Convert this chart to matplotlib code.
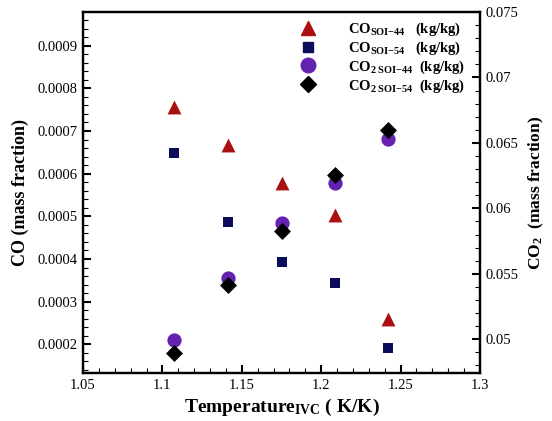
import matplotlib
matplotlib.use("Agg")
import matplotlib.pyplot as plt
from matplotlib.lines import Line2D
from matplotlib.ticker import MultipleLocator

plt.rcParams["font.family"] = ["Liberation Serif", "DejaVu Serif"]
plt.rcParams["mathtext.fontset"] = "custom"
plt.rcParams["mathtext.rm"] = "Liberation Serif"
plt.rcParams["mathtext.bf"] = "Liberation Serif:bold"
plt.rcParams["mathtext.it"] = "Liberation Serif:italic"

# data
temp_ivc = [1.1075, 1.1413, 1.175, 1.2085, 1.242]
co_soi44 = [0.000756, 0.000667, 0.000579, 0.000502, 0.000259]
co_soi54 = [0.000648, 0.000487, 0.000392, 0.000344, 0.000191]
co2_soi44 = [0.04995, 0.05469, 0.05888, 0.06194, 0.06526]
co2_soi54 = [0.04897, 0.05416, 0.05824, 0.06258, 0.06597]

c_tri = "#aa1010"
c_sq = "#0c0c5c"
c_circ = "#6422b0"
c_dia = "#000000"

fig = plt.figure(figsize=(5.52, 4.21), dpi=100)
fig.set_facecolor("white")
ax = fig.add_axes([0.1504, 0.114, 0.7192, 0.8576])
ax2 = ax.twinx()

ax.scatter(temp_ivc, co_soi44, marker="^", s=100, color=c_tri, linewidths=0, zorder=3)
ax.scatter(temp_ivc, co_soi54, marker="s", s=55, color=c_sq, linewidths=0, zorder=3)
ax2.scatter(temp_ivc, co2_soi44, marker="o", s=105, color=c_circ, linewidths=0, zorder=3)
ax2.scatter(temp_ivc, co2_soi54, marker="D", s=75, color=c_dia, linewidths=0, zorder=4)

ax.set_xlim(1.05, 1.3)
ax.set_ylim(0.0001327, 0.000979)
ax2.set_ylim(0.04742, 0.075)

ax.xaxis.set_minor_locator(MultipleLocator(0.01))
ax.yaxis.set_minor_locator(MultipleLocator(0.00002))
ax2.yaxis.set_minor_locator(MultipleLocator(0.001))

ax.set_xticks([1.05, 1.1, 1.15, 1.2, 1.25, 1.3])
ax.set_xticklabels(["1.05", "1.1", "1.15", "1.2", "1.25", "1.3"])
ax.set_yticks([0.0002, 0.0003, 0.0004, 0.0005, 0.0006, 0.0007, 0.0008, 0.0009])
ax.set_yticklabels(["0.0002", "0.0003", "0.0004", "0.0005", "0.0006", "0.0007", "0.0008", "0.0009"])
ax2.set_yticks([0.05, 0.055, 0.06, 0.065, 0.07, 0.075])
ax2.set_yticklabels(["0.05", "0.055", "0.06", "0.065", "0.07", "0.075"])

for a in (ax, ax2):
    a.tick_params(which="major", direction="in", length=6, width=1.5, labelsize=10.5, colors="black")
    a.tick_params(which="minor", direction="in", length=3.5, width=0.8)
    for sp in a.spines.values():
        sp.set_linewidth(1.6)
ax.tick_params(axis="both", which="both", top=False, right=False)
ax.tick_params(axis="x", pad=4)
ax.tick_params(axis="y", pad=4)
ax2.tick_params(axis="y", pad=4)

ax.set_xlabel(r"Temperature$\mathbf{_{IVC}}$ ( K/K)", fontsize=14, fontweight="bold", labelpad=4)
ax.set_ylabel("CO (mass fraction)", fontsize=13, fontweight="bold", labelpad=6)
ax2.set_ylabel(r"CO$\mathbf{_{2}}$  (mass fraction)", fontsize=12.5, fontweight="bold", labelpad=6)

handles = [
    Line2D([], [], marker="^", ls="none", color=c_tri, markersize=10.5),
    Line2D([], [], marker="s", ls="none", color=c_sq, markersize=7.5),
    Line2D([], [], marker="o", ls="none", color=c_circ, markersize=10.5),
    Line2D([], [], marker="D", ls="none", color=c_dia, markersize=8.5),
]
labels = [
    r"CO$\mathbf{_{SOI{-}44}}$   (kg/kg)",
    r"CO$\mathbf{_{SOI{-}54}}$   (kg/kg)",
    r"CO$\mathbf{_{2\ SOI{-}44}}$  (kg/kg)",
    r"CO$\mathbf{_{2\ SOI{-}54}}$  (kg/kg)",
]
ax2.legend(handles, labels, loc="upper left", bbox_to_anchor=(0.535, 0.968),
           bbox_transform=fig.transFigure, frameon=False, borderpad=0,
           handlelength=0.8, handletextpad=2.3, labelspacing=0.1,
           prop={"weight": "bold", "size": 10.5})

fig.savefig("out.png", dpi=100, facecolor="white")
